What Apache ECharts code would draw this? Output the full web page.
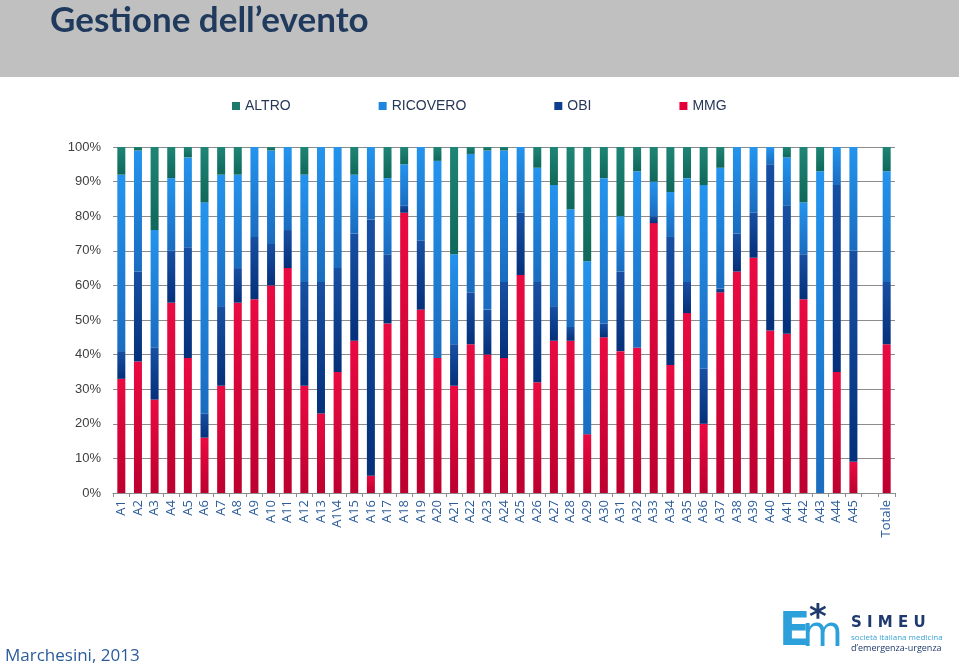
<!DOCTYPE html>
<html>
<head>
<meta charset="utf-8">
<script src="https://cdn.jsdelivr.net/npm/echarts@6/dist/echarts.min.js"></script>
<style>
html,body{margin:0;padding:0;background:#fff;}
#chart{width:959px;height:671px;}
</style>
</head>
<body>
<div id="chart"></div>
<script>
var categories = ['A1','A2','A3','A4','A5','A6','A7','A8','A9','A10','A11','A12','A13','A1\\4','A15','A16','A17','A18','A19','A20','A21','A22','A23','A24','A25','A26','A27','A28','A29','A30','A31','A32','A33','A34','A35','A36','A37','A38','A39','A40','A41','A42','A43','A44','A45','','Totale'];
var mmg   = [33,38,27,55,39,16,31,55,56,60,65,31,23,35,44,5,49,81,53,39,31,43,40,39,63,32,44,44,17,45,41,42,78,37,52,20,58,64,68,47,46,56,0,35,9,null,43];
var obi   = [8,26,15,15,32,7,23,10,18,12,11,30,38,30,31,74,20,2,20,0,12,15,13,22,18,29,10,4,0,4,23,0,2,37,9,16,1,11,13,48,37,13,0,54,61,null,18];
var ricovero = [51,35,34,21,26,61,38,27,26,27,24,31,39,35,17,21,22,12,27,57,26,40,46,38,19,33,35,34,50,42,16,51,10,13,30,53,35,25,19,5,14,15,93,11,30,null,32];
var altro = [8,1,24,9,3,16,8,8,0,1,0,8,0,0,8,0,9,5,0,4,31,2,1,1,0,6,11,18,33,9,20,7,10,13,9,11,6,0,0,0,3,16,7,0,0,null,7];

function grad(top, bottom){
  return new echarts.graphic.LinearGradient(0,0,0,1,[{offset:0,color:top},{offset:1,color:bottom}]);
}
var colMMG = '#E3003A', colOBI = '#0C3F8E', colRIC = '#1E86DE', colALT = '#1B7A6B';

var chart = echarts.init(document.getElementById('chart'));
function mk(name, data, top, bottom){
  return {name:name,type:'bar',stack:'s',data:data,barWidth:8,
    itemStyle:{color:grad(top,bottom)},
    emphasis:{disabled:true}};
}
var option = {
  animation:false,
  backgroundColor:'#ffffff',
  graphic:[
    {type:'rect',left:0,top:0,shape:{width:959,height:77},style:{fill:'#C0C0C0'},z:-1},
    {type:'text',left:50,top:3,style:{text:'Gestione dell\u2019evento',font:'bold 35px Lato, "Open Sans", sans-serif',fill:'#1F3A5C'}},
    {type:'text',left:5,top:648,style:{text:'Marchesini, 2013',font:'17px "Open Sans", Lato, sans-serif',fill:'#2A5C9A'}},
    {type:'text',left:779,top:610,style:{text:'E',font:'bold 46px "DejaVu Sans", sans-serif',fill:'#2CA0DA'}},
    {type:'text',left:802,top:614,style:{text:'m',font:'42px "DejaVu Sans", sans-serif',fill:'#2CA0DA'}},
    {type:'text',left:809,top:602,style:{text:'*',font:'bold 34px "DejaVu Sans", sans-serif',fill:'#1F3A6E'}},
    {type:'text',left:851,top:616,style:{text:'S I M E U',font:'bold 15px "DejaVu Sans", sans-serif',fill:'#1F3A6E'}},
    {type:'text',left:851,top:634,style:{text:'società italiana medicina',font:'8px "Open Sans", sans-serif',fill:'#3AA3D6'}},
    {type:'text',left:851,top:644,style:{text:'d\u2019emergenza-urgenza',font:'9px "Open Sans", sans-serif',fill:'#1F3A6E'}}
  ],
  legend:{
    data:[
      {name:'ALTRO',itemStyle:{color:colALT}},
      {name:'RICOVERO',itemStyle:{color:colRIC}},
      {name:'OBI',itemStyle:{color:colOBI}},
      {name:'MMG',itemStyle:{color:colMMG}}
    ],
    left:227, top:94, itemWidth:8, itemHeight:8, itemGap:88, icon:'rect',
    textStyle:{fontSize:14,color:'#27375A',fontFamily:'"Liberation Sans", Arial, sans-serif'},
    selectedMode:false
  },
  grid:{left:113,right:64,top:147,bottom:178,containLabel:false},
  xAxis:{
    type:'category',data:categories,
    axisLine:{lineStyle:{color:'#8C8C8C',width:1}},
    axisTick:{show:true,length:4,lineStyle:{color:'#8C8C8C'}},
    axisLabel:{rotate:90,interval:0,margin:7,fontSize:13,color:'#2A5C9A',fontFamily:'"Open Sans", "Liberation Sans", sans-serif'}
  },
  yAxis:{
    type:'value',min:0,max:100,interval:10,
    axisLabel:{formatter:function(v){return v+'%';},fontSize:13,color:'#404040',margin:12,fontFamily:'"Liberation Sans", Arial, sans-serif'},
    axisLine:{show:false},axisTick:{show:false},
    splitLine:{lineStyle:{color:'#8C8C8C',width:1}}
  },
  series:[
    mk('MMG',mmg,'#EA0A42','#BC002F'),
    mk('OBI',obi,'#174FA3','#05307A'),
    mk('RICOVERO',ricovero,'#2494EE','#1A6CC0'),
    mk('ALTRO',altro,'#1E8575','#10685A')
  ]
};
chart.setOption(option);
</script>
</body>
</html>
